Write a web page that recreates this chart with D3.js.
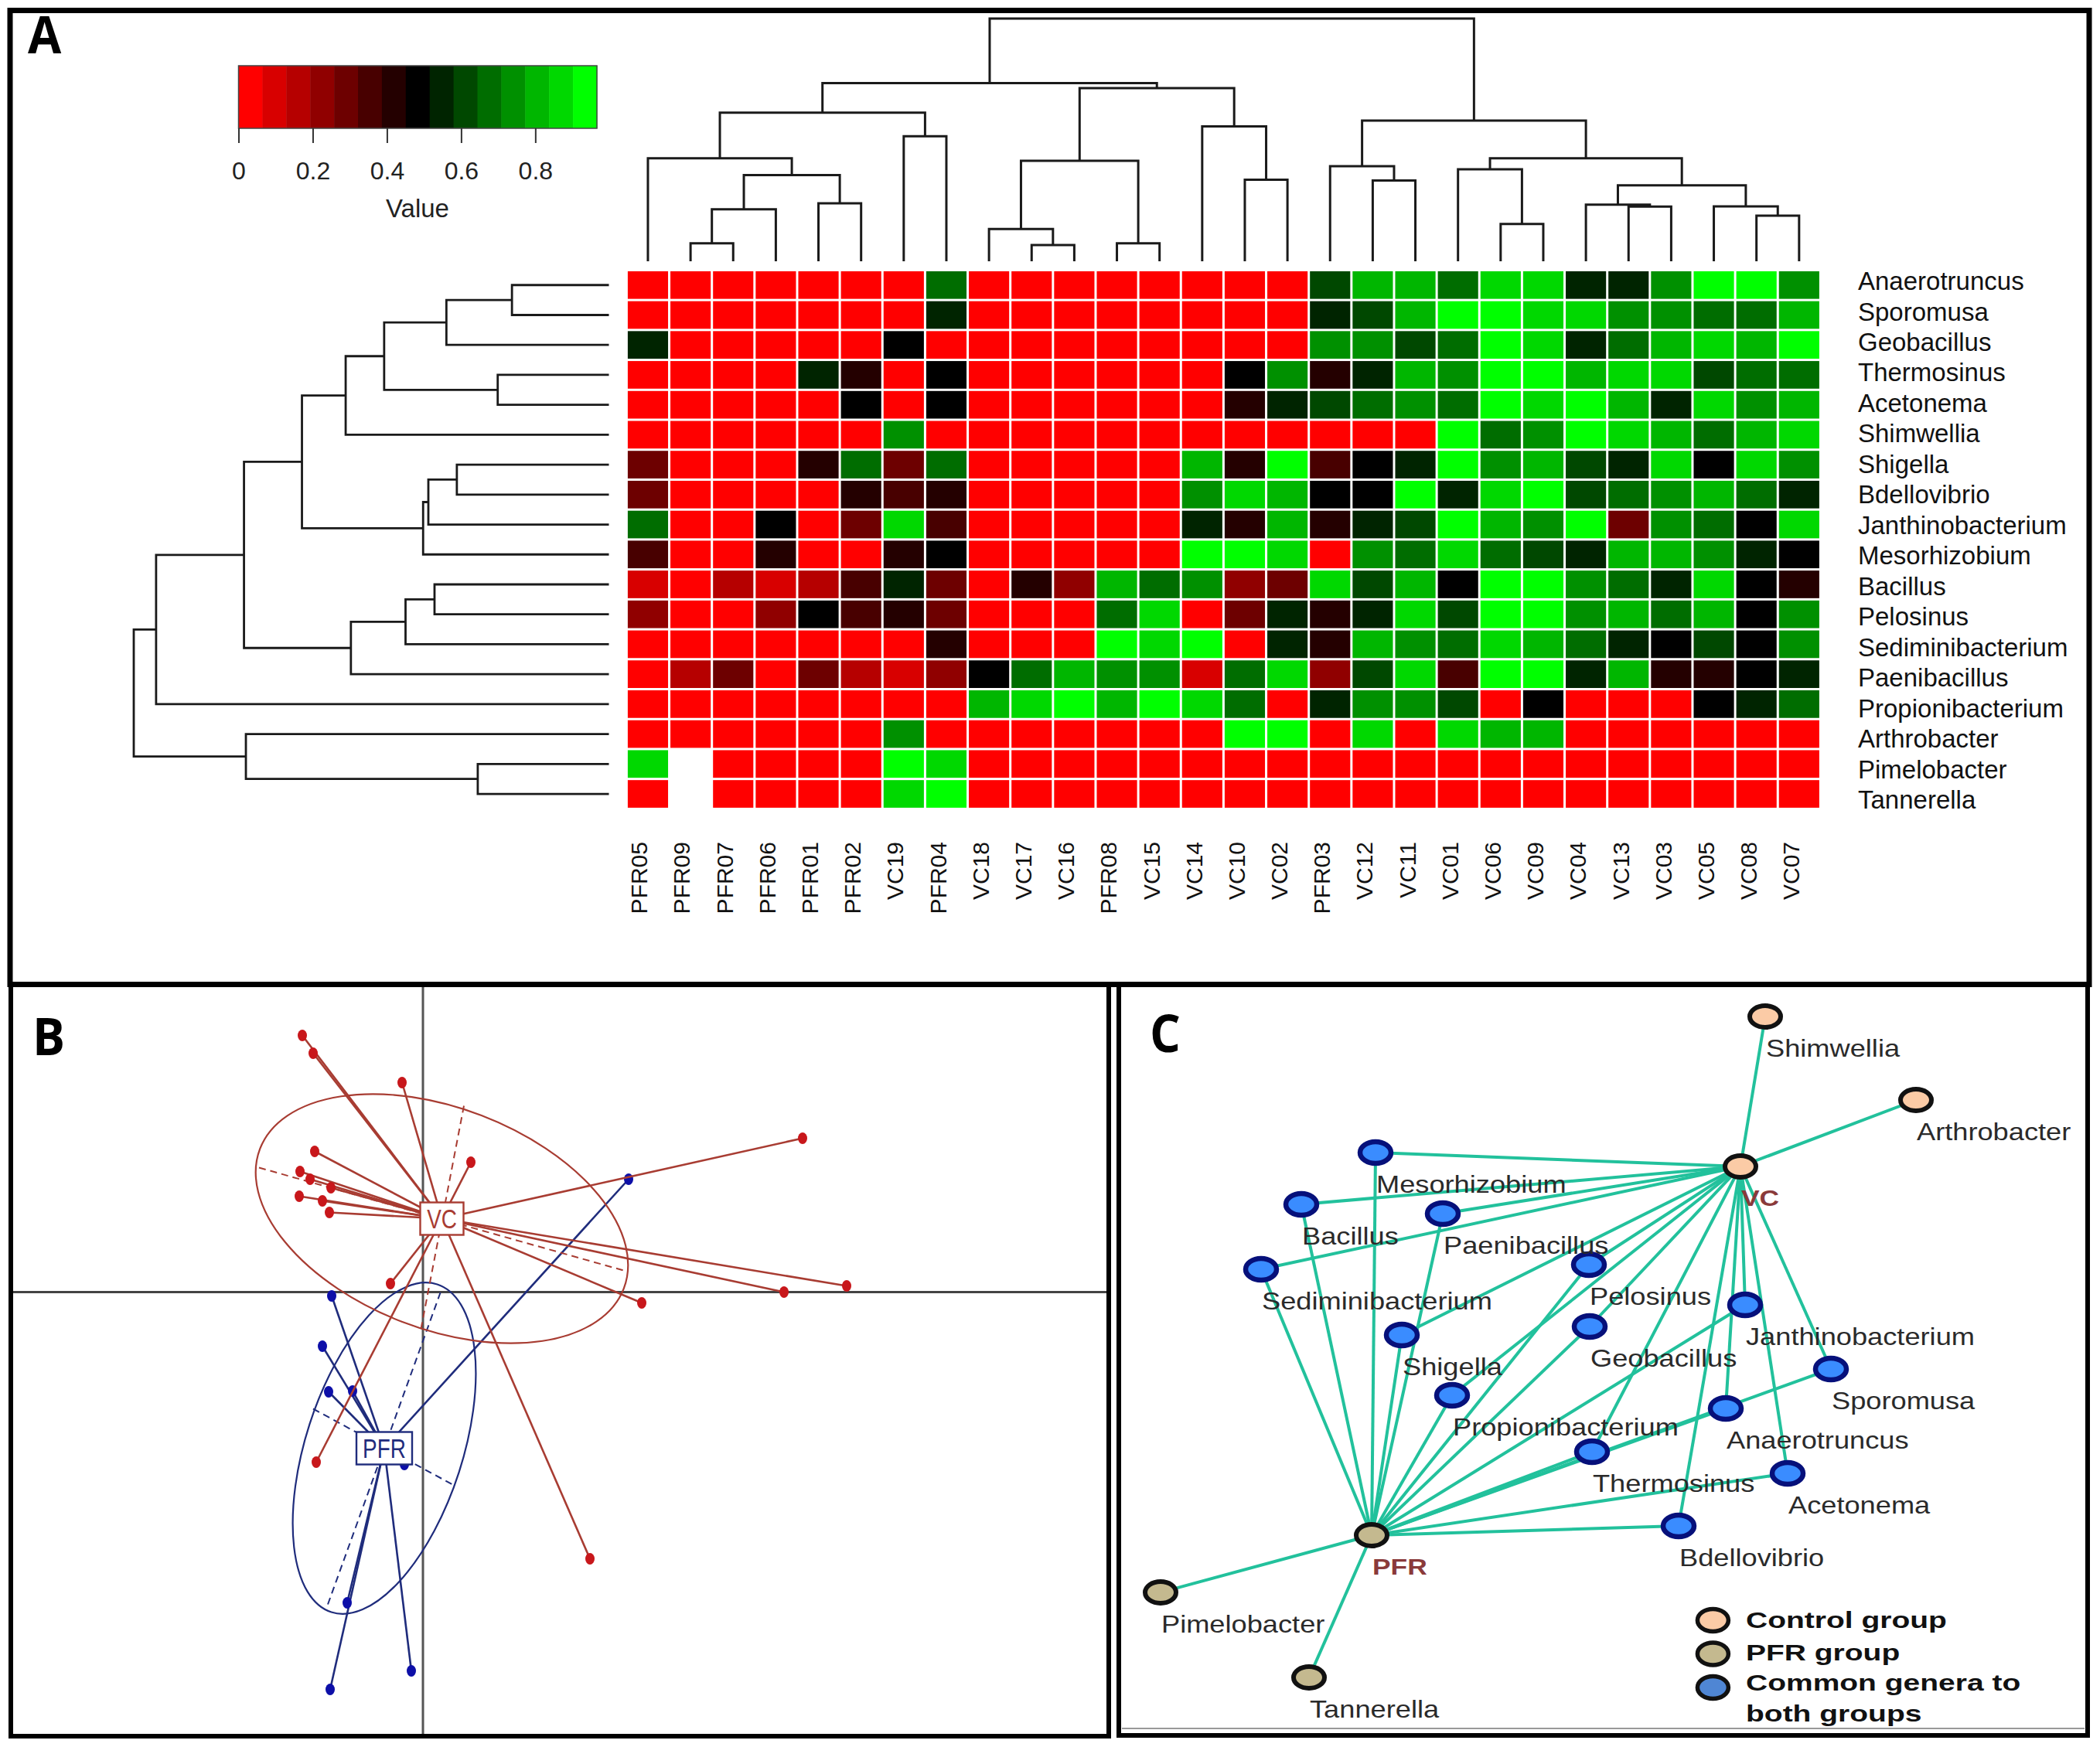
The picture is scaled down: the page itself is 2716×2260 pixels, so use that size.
<!DOCTYPE html>
<html><head><meta charset="utf-8">
<script src="https://cdn.jsdelivr.net/npm/d3@7"></script>
<style>html,body{margin:0;padding:0;background:#fff}svg{display:block}text{font-family:"Liberation Sans",Arial,sans-serif}</style>
</head><body><svg id="c" width="2716" height="2260" viewBox="0 0 2716 2260"></svg>
<script>
// ---------- Panel A data ----------
const samples=["PFR05","PFR09","PFR07","PFR06","PFR01","PFR02","VC19","PFR04","VC18","VC17","VC16","PFR08","VC15","VC14","VC10","VC02","PFR03","VC12","VC11","VC01","VC06","VC09","VC04","VC13","VC03","VC05","VC08","VC07"];
const genera=["Anaerotruncus","Sporomusa","Geobacillus","Thermosinus","Acetonema","Shimwellia","Shigella","Bdellovibrio","Janthinobacterium","Mesorhizobium","Bacillus","Pelosinus","Sediminibacterium","Paenibacillus","Propionibacterium","Arthrobacter","Pimelobacter","Tannerella"];
const heatRows=[
[.03,.03,.03,.03,.03,.03,.03,.68,.03,.03,.03,.03,.03,.03,.03,.03,.61,.81,.81,.68,.87,.87,.55,.55,.74,.93,.93,.74],
[.03,.03,.03,.03,.03,.03,.03,.55,.03,.03,.03,.03,.03,.03,.03,.03,.55,.61,.81,.93,.93,.87,.87,.74,.74,.68,.68,.81],
[.55,.03,.03,.03,.03,.03,.48,.03,.03,.03,.03,.03,.03,.03,.03,.03,.74,.74,.61,.68,.93,.87,.55,.68,.81,.87,.81,.93],
[.03,.03,.03,.03,.55,.42,.03,.48,.03,.03,.03,.03,.03,.03,.48,.74,.42,.55,.81,.74,.93,.93,.81,.87,.87,.61,.68,.68],
[.03,.03,.03,.03,.03,.48,.03,.48,.03,.03,.03,.03,.03,.03,.42,.55,.61,.68,.74,.68,.93,.87,.93,.81,.55,.87,.74,.81],
[.03,.03,.03,.03,.03,.03,.74,.03,.03,.03,.03,.03,.03,.03,.03,.03,.03,.03,.03,.93,.68,.74,.93,.87,.81,.68,.81,.87],
[.29,.03,.03,.03,.42,.68,.29,.68,.03,.03,.03,.03,.03,.81,.42,.93,.35,.48,.55,.93,.74,.81,.61,.55,.87,.48,.87,.74],
[.29,.03,.03,.03,.03,.42,.35,.42,.03,.03,.03,.03,.03,.74,.87,.81,.48,.48,.93,.55,.87,.93,.61,.68,.74,.81,.68,.55],
[.68,.03,.03,.48,.03,.29,.87,.35,.03,.03,.03,.03,.03,.55,.42,.81,.42,.55,.61,.93,.81,.74,.93,.29,.74,.68,.48,.87],
[.35,.03,.03,.42,.03,.03,.42,.48,.03,.03,.03,.03,.03,.93,.93,.87,.03,.74,.68,.87,.68,.61,.55,.81,.81,.74,.55,.48],
[.10,.03,.16,.10,.16,.35,.55,.29,.03,.42,.23,.81,.68,.74,.23,.29,.87,.61,.81,.48,.93,.93,.74,.68,.55,.87,.48,.42],
[.23,.03,.03,.23,.48,.35,.42,.29,.03,.03,.03,.68,.87,.03,.29,.55,.42,.55,.87,.61,.93,.93,.74,.81,.68,.81,.48,.74],
[.03,.03,.03,.03,.03,.03,.03,.42,.03,.03,.03,.93,.87,.93,.03,.55,.42,.81,.74,.68,.87,.81,.68,.55,.48,.61,.48,.74],
[.03,.16,.29,.03,.29,.16,.10,.23,.48,.68,.81,.74,.74,.10,.68,.87,.23,.61,.87,.35,.93,.93,.55,.81,.42,.42,.48,.55],
[.03,.03,.03,.03,.03,.03,.03,.03,.81,.87,.93,.81,.93,.87,.68,.03,.55,.74,.74,.61,.03,.48,.03,.03,.03,.48,.55,.68],
[.03,.03,.03,.03,.03,.03,.74,.03,.03,.03,.03,.03,.03,.03,.93,.93,.03,.87,.03,.87,.81,.81,.03,.03,.03,.03,.03,.03],
[.87,null,.03,.03,.03,.03,.93,.87,.03,.03,.03,.03,.03,.03,.03,.03,.03,.03,.03,.03,.03,.03,.03,.03,.03,.03,.03,.03],
[.03,null,.03,.03,.03,.03,.87,.93,.03,.03,.03,.03,.03,.03,.03,.03,.03,.03,.03,.03,.03,.03,.03,.03,.03,.03,.03,.03]];
const palette=["#ff0000","#d80000","#b60000","#900000","#6d0000","#480000","#240000","#000000","#002400","#004800","#006d00","#009000","#00b600","#00d800","#00ff00"];
const legendTicks=[0,.2,.4,.6,.8];
const valueMax=.966;
// nested dendrograms: [height, left, right]; integers are leaves
const colTree=[100,
 [73.4,
  [61.2,[42.4,0,[35.5,[21.4,[7.4,1,2],3],[23.9,4,5]]],[51.5,6,7]],
  [71.3,[41.4,[13.3,8,[6.7,9,10]],[7.4,11,12]],[55.6,13,[33.6,14,15]]]],
 [58,[39.2,16,[33.3,17,18]],
  [42.4,[37.9,19,[15.4,20,21]],[31.3,[23.3,22,[22.5,23,24]],[22.6,25,[18.8,26,27]]]]]];
const rowTree=[100,
 [95.3,
  [76.8,
   [64.6,[55.4,[47.3,[34.2,[20.4,0,1],2],[23.4,3,4]],5],[39.1,[38,[32,6,7],8],9]],
   [54.3,[42.8,[36.7,10,11],12],13]],
  14],
 [76.4,15,[27.6,16,17]]];
// ---------- Panel B data (ordination axes) ----------
const vcPoints=[[-1.56,3.32],[-1.42,3.09],[-.27,2.71],[4.91,1.99],[.62,1.68],[-1.40,1.82],[-1.59,1.56],[-1.46,1.46],[-1.19,1.35],[-1.60,1.24],[-1.30,1.18],[-1.21,1.03],[-.42,.11],[5.48,.08],[4.67,0],[2.83,-.14],[-1.38,-2.20],[2.16,-3.45]];
const pfrPoints=[[-1.18,-.05],[-1.30,-.70],[-1.22,-1.29],[-.91,-1.28],[2.66,1.46],[-.98,-4.02],[-1.20,-5.14],[-.15,-4.90],[-.24,-2.23]];
const vcCentre=[.245,.95], pfrCentre=[-.50,-2.02];
const vcAxes=[[[-2.12,1.61],[2.63,.27]],[[.53,2.41],[-.03,-.50]]];
const pfrAxes=[[[-1.23,-4.04],[.23,.005]],[[-1.42,-1.51],[.42,-2.51]]];
const vcEllipse={a:2.52,b:1.43,angle:21}, pfrEllipse={a:2.228,b:1.015,angle:-72.1};
// ---------- Panel C data (network layout units) ----------
const hubs=[["VC",80.1,22.8],["PFR",32.4,70.5]];
const vcOnly=[["Shimwellia",83.3,3.4],["Arthrobacter",102.8,14.2]];
const pfrOnly=[["Pimelobacter",5.1,77.9],["Tannerella",24.3,88.9]];
const common=[["Mesorhizobium",32.9,21.0],["Bacillus",23.3,27.7],["Paenibacillus",41.6,28.9],["Sediminibacterium",18.1,36.1],["Pelosinus",60.5,35.5],["Geobacillus",60.6,43.5],["Janthinobacterium",80.7,40.7],["Shigella",36.3,44.6],["Sporomusa",91.8,49.0],["Propionibacterium",42.8,52.4],["Anaerotruncus",78.2,54.1],["Thermosinus",60.9,59.7],["Acetonema",86.2,62.5],["Bdellovibrio",72.1,69.3]];
const legendItems=[["Control group","#fbcba6"],["PFR group","#c4b98f"],["Common genera to","#4f86d4"]];

const svg=d3.select("#c");
// ---------- frames ----------
const frames=svg.append("g").attr("fill","none").attr("stroke","#000");
frames.append("rect").attr("x",13).attr("y",13.5).attr("width",2689).attr("height",1260).attr("stroke-width",7);
frames.append("rect").attr("x",14).attr("y",1274).attr("width",1420).attr("height",972).attr("stroke-width",6);
frames.append("rect").attr("x",1447).attr("y",1274).attr("width",1253).attr("height",971).attr("stroke-width",6);
svg.append("line").attr("x1",1451).attr("x2",2696).attr("y1",2236).attr("y2",2236).attr("stroke","#999").attr("stroke-width",2);
const letter=(t,x,y,sx)=>svg.append("text").attr("transform",`translate(${x},${y}) scale(${sx},1)`).attr("font-size",66).attr("font-weight",700).attr("style",'font-family:"Open Sans"').text(t);
letter("A",36,69,.95);letter("B",42,1365,.95);letter("C",1487,1361,.95);

// ---------- heatmap ----------
const xH=d3.scaleBand().domain(d3.range(samples.length)).range([810.4,2354.4]);
const yH=d3.scaleBand().domain(d3.range(genera.length)).range([349.4,1046.4]);
const colour=d3.scaleQuantize().domain([0,valueMax]).range(palette);
const gap=3;
const heat=svg.append("g");
heatRows.forEach((row,r)=>{
  heat.append("g").selectAll("rect").data(row.map((v,c)=>({v,c})).filter(d=>d.v!==null)).join("rect")
   .attr("x",d=>xH(d.c)+gap/2).attr("y",yH(r)+gap/2)
   .attr("width",xH.bandwidth()-gap).attr("height",yH.bandwidth()-gap)
   .attr("fill",d=>colour(d.v));
});
// row labels
const yLab=d3.scalePoint().domain(genera).range([364,1035]);
const rowAxis=svg.append("g").attr("transform","translate(2403,0)").call(d3.axisRight(yLab).tickSize(0).tickPadding(0));
rowAxis.select(".domain").remove();
rowAxis.selectAll("text").attr("font-size",33).attr("fill","#111").style("font-family",'"Liberation Sans"');
// column labels
const xLab=d3.scalePoint().domain(samples).range([826,2316]);
const colAxis=svg.append("g").attr("transform","translate(0,1089)").call(d3.axisBottom(xLab).tickSize(0).tickPadding(0));
colAxis.select(".domain").remove();
colAxis.selectAll("text").attr("font-size",30).attr("fill","#111").attr("text-anchor","end")
  .attr("transform","rotate(-90)").attr("x",0).attr("y",0).attr("dy",".36em").style("font-family",'"Liberation Sans"');

// dendrograms
function segs(node,leafPos,out){
  if(typeof node==="number") return {p:leafPos(node),h:0};
  const a=segs(node[1],leafPos,out), b=segs(node[2],leafPos,out);
  out.push({a,b,h:node[0]});
  return {p:(a.p+b.p)/2,h:node[0]};
}
const hTop=d3.scaleLinear().domain([0,100]).range([338,24]);
const topS=[];segs(colTree,i=>xH(i)+xH.bandwidth()/2,topS);
svg.append("g").selectAll("path").data(topS).join("path").attr("fill","none").attr("stroke","#1a1a1a").attr("stroke-width",3)
  .attr("d",d=>`M${d.a.p},${hTop(d.a.h)}V${hTop(d.h)}H${d.b.p}V${hTop(d.b.h)}`);
const hLeft=d3.scaleLinear().domain([0,100]).range([787.5,173]);
const leftS=[];segs(rowTree,i=>yH(i)+yH.bandwidth()/2,leftS);
svg.append("g").selectAll("path").data(leftS).join("path").attr("fill","none").attr("stroke","#1a1a1a").attr("stroke-width",2.8)
  .attr("d",d=>`M${hLeft(d.a.h)},${d.a.p}H${hLeft(d.h)}V${d.b.p}H${hLeft(d.b.h)}`);

// colour key
const xKey=d3.scaleLinear().domain([0,valueMax]).range([308.5,772]);
const step=valueMax/palette.length;
svg.append("g").selectAll("rect").data(palette).join("rect")
  .attr("x",(d,i)=>xKey(i*step)).attr("y",85).attr("width",(d,i)=>xKey((i+1)*step)-xKey(i*step)+.5).attr("height",81).attr("fill",d=>d);
svg.append("rect").attr("x",308.5).attr("y",85).attr("width",463.5).attr("height",81).attr("fill","none").attr("stroke","#444").attr("stroke-width",1.5);
const keyAxis=svg.append("g").attr("transform","translate(0,166)").call(d3.axisBottom(xKey).tickValues(legendTicks).tickFormat(d=>d===0?"0":d3.format(".1f")(d)).tickSize(19).tickPadding(24));
keyAxis.select(".domain").remove();
keyAxis.selectAll("line").attr("stroke","#333").attr("stroke-width",2);
keyAxis.selectAll("text").attr("font-size",32).attr("fill","#222").style("font-family",'"Liberation Sans"');
svg.append("text").attr("x",540).attr("y",281).attr("text-anchor","middle").attr("font-size",33).attr("fill","#222").text("Value");

// ---------- Panel B ----------
const xB=d3.scaleLinear().domain([-5.33,8.87]).range([14,1434]);
const yB=d3.scaleLinear().domain([-5.75,3.91]).range([2246.5,1280.5]);
const B=svg.append("g");
const redL="#a83c32",blueL="#1f2c7c";
B.append("line").attr("x1",xB(0)).attr("x2",xB(0)).attr("y1",1277).attr("y2",2243).attr("stroke","#555").attr("stroke-width",3);
B.append("line").attr("x1",17).attr("x2",1431).attr("y1",yB(0)).attr("y2",yB(0)).attr("stroke","#444").attr("stroke-width",3);
function group(points,centre,axes,ell,lineCol,ptCol,name,bw){
  const g=B.append("g");
  g.append("g").selectAll("line").data(points).join("line")
   .attr("x1",d=>xB(d[0])).attr("y1",d=>yB(d[1])).attr("x2",xB(centre[0])).attr("y2",yB(centre[1]))
   .attr("stroke",lineCol).attr("stroke-width",2.6);
  g.append("ellipse").attr("cx",0).attr("cy",0)
   .attr("rx",xB(ell.a)-xB(0)).attr("ry",xB(ell.b)-xB(0))
   .attr("transform",`translate(${xB(centre[0])},${yB(centre[1])}) rotate(${ell.angle})`)
   .attr("fill","none").attr("stroke",lineCol).attr("stroke-width",2.2);
  g.append("g").selectAll("line").data(axes).join("line")
   .attr("x1",d=>xB(d[0][0])).attr("y1",d=>yB(d[0][1])).attr("x2",d=>xB(d[1][0])).attr("y2",d=>yB(d[1][1]))
   .attr("stroke",lineCol).attr("stroke-width",2).attr("stroke-dasharray","9 6");
  g.append("g").selectAll("ellipse").data(points).join("ellipse")
   .attr("cx",d=>xB(d[0])).attr("cy",d=>yB(d[1])).attr("rx",6).attr("ry",7.5).attr("fill",ptCol);
  return ()=>{
   const cx=xB(centre[0]),cy=yB(centre[1]);
   g.append("rect").attr("x",cx-bw/2).attr("y",cy-21).attr("width",bw).attr("height",42).attr("fill","#fff").attr("stroke",lineCol).attr("stroke-width",2.4);
   g.append("text").attr("transform",`translate(${cx},${cy}) scale(.9,1.15)`).attr("dy",".36em").attr("text-anchor","middle").attr("font-size",31).attr("fill",lineCol).text(name);
  };
}
const boxPfr=group(pfrPoints,pfrCentre,pfrAxes,pfrEllipse,blueL,"#0d0fa8","PFR",72);
const boxVc=group(vcPoints,vcCentre,vcAxes,vcEllipse,redL,"#c8171b","VC",56);
boxPfr();boxVc();

// ---------- Panel C ----------
const xC=d3.scaleLinear().domain([0,125]).range([1450,2700]);
const yC=d3.scaleLinear().domain([0,96.5]).range([1281,2246]);
const C=svg.append("g");
const edges=[];
vcOnly.forEach(n=>edges.push([hubs[0],n]));
pfrOnly.forEach(n=>edges.push([hubs[1],n]));
common.forEach(n=>{edges.push([hubs[0],n]);edges.push([hubs[1],n]);});
C.append("g").selectAll("line").data(edges).join("line")
 .attr("x1",d=>xC(d[0][1])).attr("y1",d=>yC(d[0][2])).attr("x2",d=>xC(d[1][1])).attr("y2",d=>yC(d[1][2]))
 .attr("stroke","#22c19c").attr("stroke-width",4);
function nodes(list,fill,stroke,sw){
  C.append("g").selectAll("ellipse").data(list).join("ellipse")
   .attr("cx",d=>xC(d[1])).attr("cy",d=>yC(d[2])).attr("rx",20).attr("ry",14)
   .attr("fill",fill).attr("stroke",stroke).attr("stroke-width",sw);
}
nodes(common,"#3a8cff","#06107a",6.5);
nodes(vcOnly,"#fbcba6","#111",6);
nodes(pfrOnly,"#c4b98f","#111",6);
nodes([hubs[0]],"#fbcba6","#111",6);
nodes([hubs[1]],"#c4b98f","#111",6);
C.append("g").selectAll("text").data([...vcOnly,...pfrOnly,...common]).join("text")
 .attr("transform",d=>`translate(${xC(d[1])+1},${yC(d[2])+40.5}) scale(1.15,1)`)
 .attr("dy",".35em").attr("font-size",31.5).attr("fill","#2a2a2a").text(d=>d[0]);
C.append("g").selectAll("text").data(hubs).join("text")
 .attr("transform",d=>`translate(${xC(d[1])+1},${yC(d[2])+40.5}) scale(1.18,1)`)
 .attr("dy",".35em").attr("font-size",30).attr("font-weight",700).attr("fill","#8a3a3a").text(d=>d[0]);
// legend
const legY=d3.scalePoint().domain(d3.range(legendItems.length)).range([2096,2183]);
C.append("g").selectAll("ellipse").data(legendItems).join("ellipse")
 .attr("cx",2215.4).attr("cy",(d,i)=>legY(i)).attr("rx",20).attr("ry",14.5)
 .attr("fill",d=>d[1]).attr("stroke","#111").attr("stroke-width",5.5);
const legText=(t,y)=>C.append("text").attr("transform",`translate(2258,${y}) scale(1.3,1)`).attr("dy",".35em").attr("font-size",30).attr("font-weight",700).attr("fill","#111").text(t);
legendItems.forEach((d,i)=>legText(d[0],[2095.5,2137,2176.5][i]));
legText("both groups",2216);
</script></body></html>
